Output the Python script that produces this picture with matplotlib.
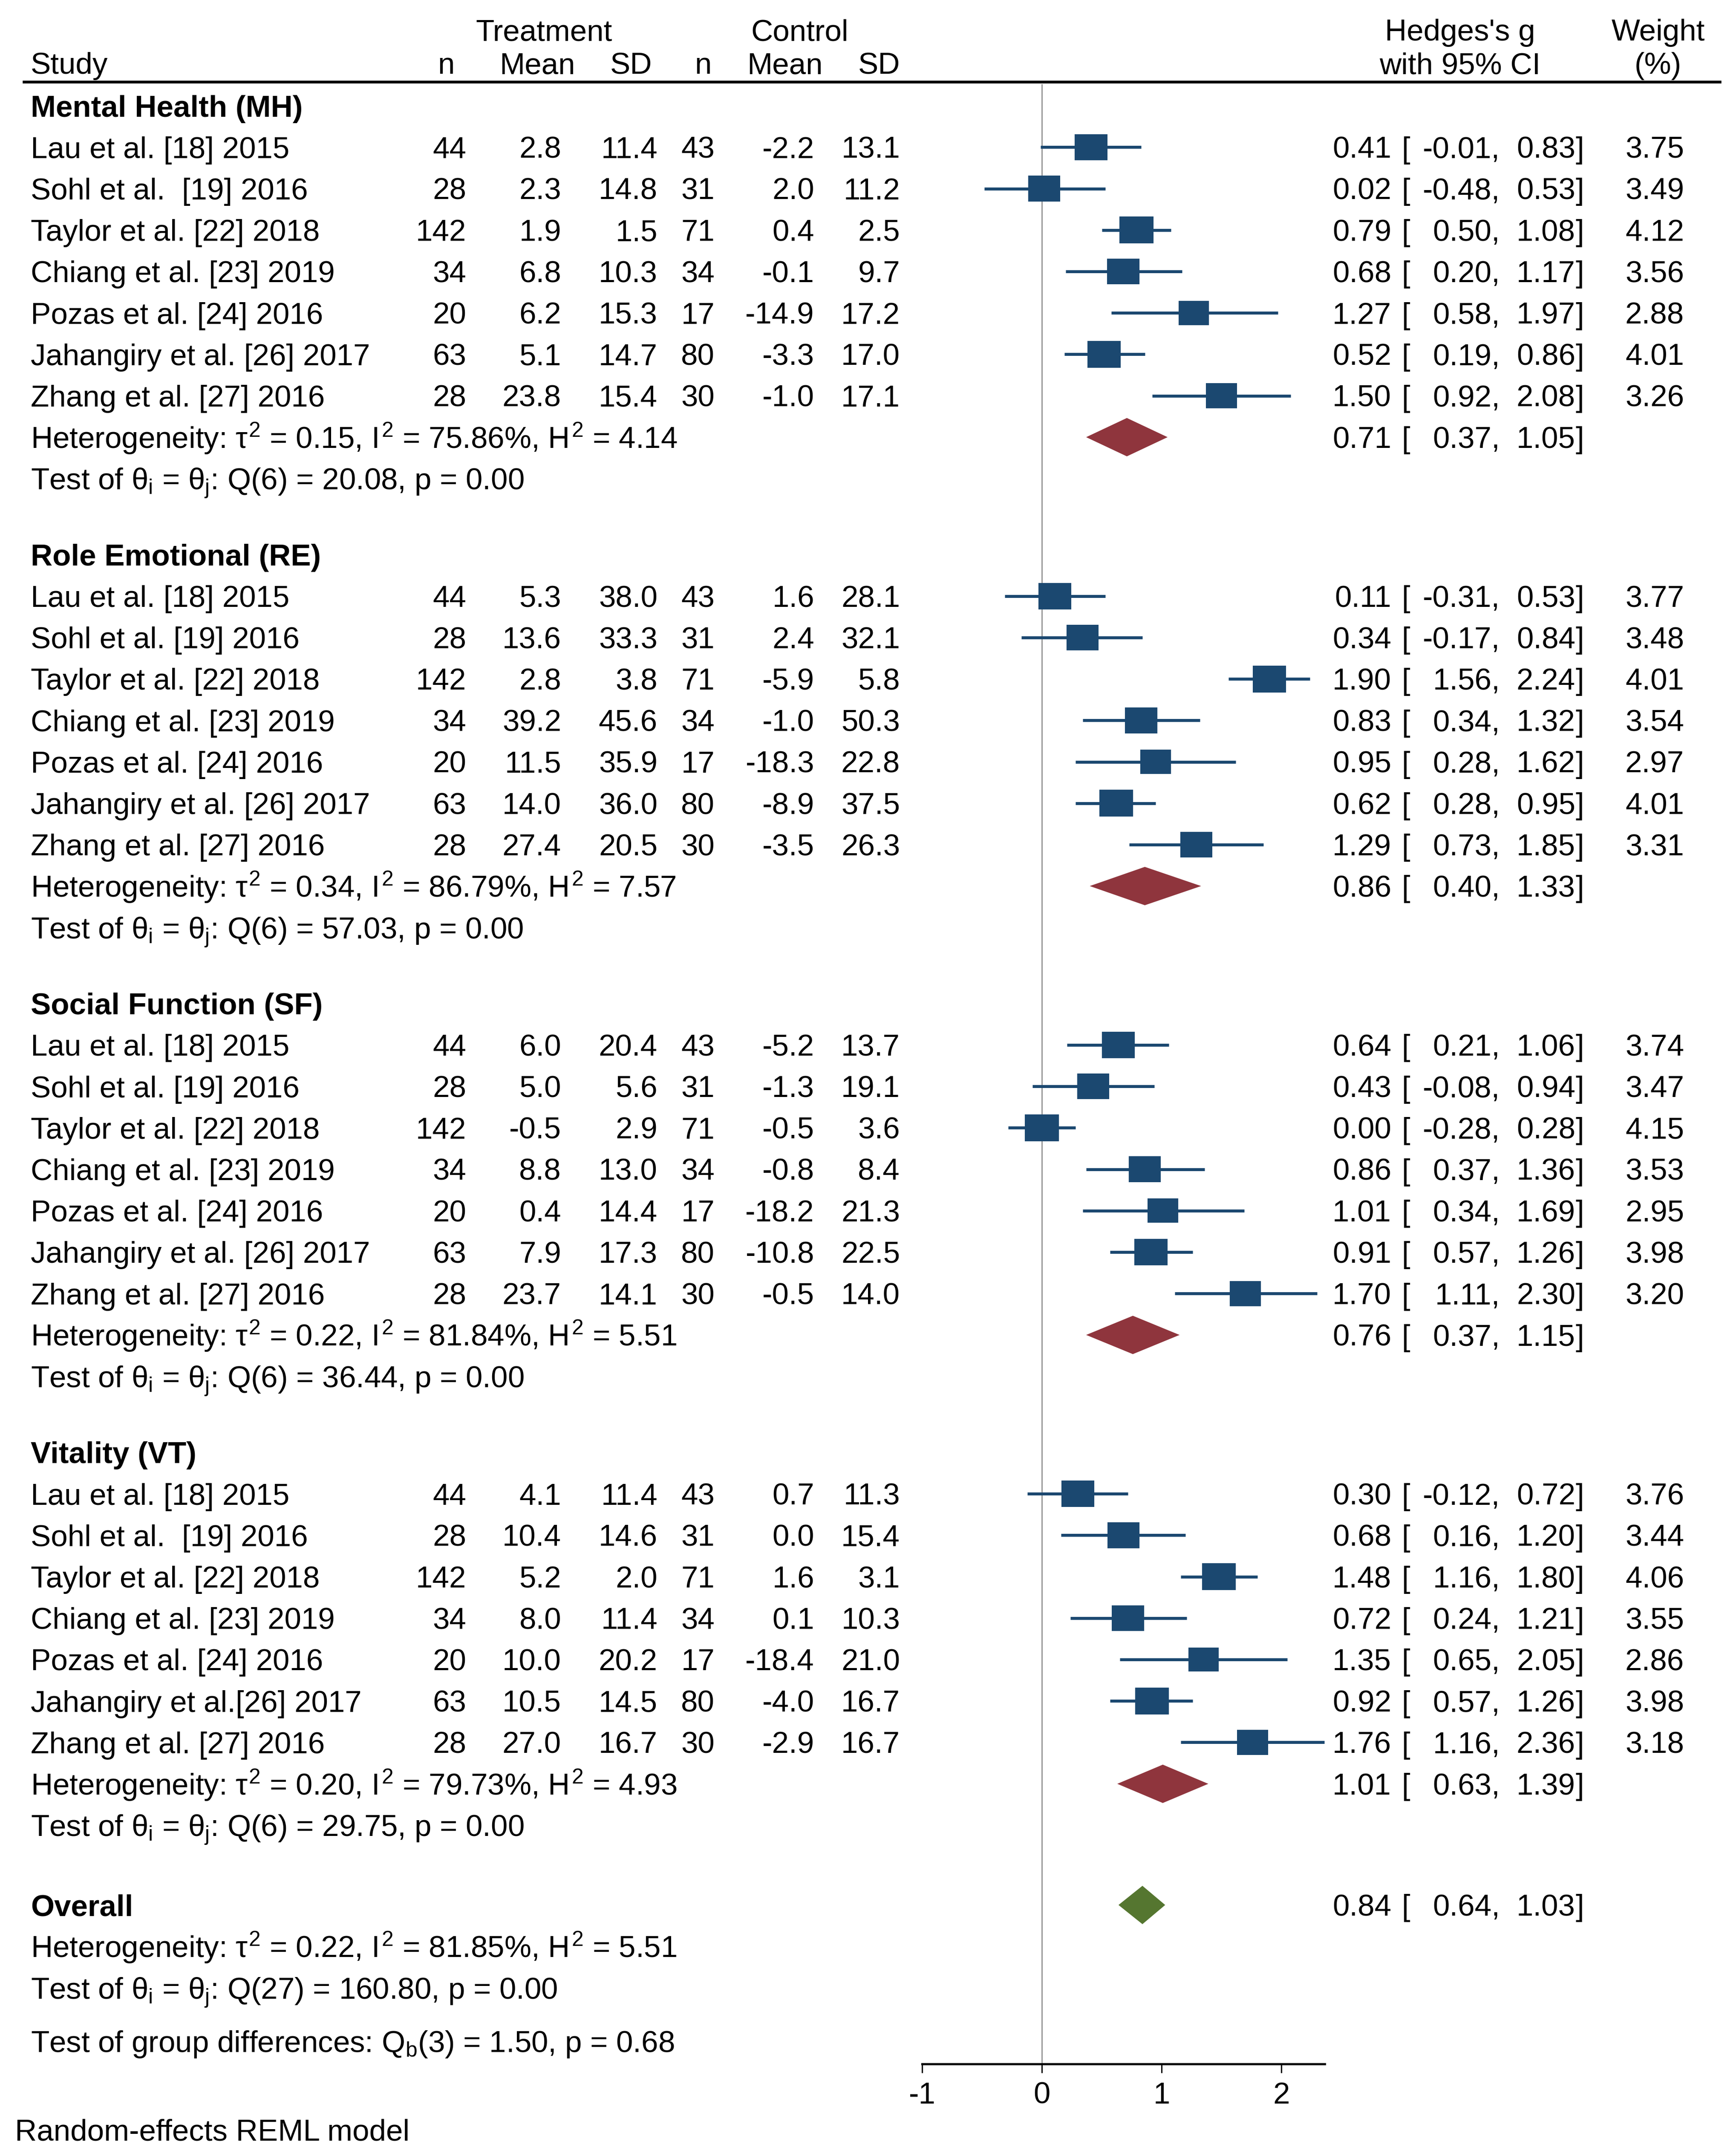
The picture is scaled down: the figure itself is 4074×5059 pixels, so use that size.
import numpy as np
import matplotlib
matplotlib.use("Agg")
import matplotlib.pyplot as plt
from matplotlib import transforms
from matplotlib.patches import Rectangle, Polygon

plt.rcParams['font.family'] = ['Liberation Sans', 'DejaVu Sans']
plt.rcParams['mathtext.fontset'] = 'custom'
plt.rcParams['mathtext.rm'] = 'Liberation Sans'
plt.rcParams['mathtext.it'] = 'Liberation Sans'
plt.rcParams['mathtext.bf'] = 'Liberation Sans:bold'
plt.rcParams['axes.unicode_minus'] = False

# ---- data ----
groups = ["Mental Health (MH)", "Role Emotional (RE)", "Social Function (SF)", "Vitality (VT)"]

studies = [
    ["Lau et al. [18] 2015", "Sohl et al.  [19] 2016", "Taylor et al. [22] 2018", "Chiang et al. [23] 2019",
     "Pozas et al. [24] 2016", "Jahangiry et al. [26] 2017", "Zhang et al. [27] 2016"],
    ["Lau et al. [18] 2015", "Sohl et al. [19] 2016", "Taylor et al. [22] 2018", "Chiang et al. [23] 2019",
     "Pozas et al. [24] 2016", "Jahangiry et al. [26] 2017", "Zhang et al. [27] 2016"],
    ["Lau et al. [18] 2015", "Sohl et al. [19] 2016", "Taylor et al. [22] 2018", "Chiang et al. [23] 2019",
     "Pozas et al. [24] 2016", "Jahangiry et al. [26] 2017", "Zhang et al. [27] 2016"],
    ["Lau et al. [18] 2015", "Sohl et al.  [19] 2016", "Taylor et al. [22] 2018", "Chiang et al. [23] 2019",
     "Pozas et al. [24] 2016", "Jahangiry et al.[26] 2017", "Zhang et al. [27] 2016"],
]

n_treat = [44, 28, 142, 34, 20, 63, 28]
n_ctrl = [43, 31, 71, 34, 17, 80, 30]

mean_treat = [
    [2.8, 2.3, 1.9, 6.8, 6.2, 5.1, 23.8],
    [5.3, 13.6, 2.8, 39.2, 11.5, 14.0, 27.4],
    [6.0, 5.0, -0.5, 8.8, 0.4, 7.9, 23.7],
    [4.1, 10.4, 5.2, 8.0, 10.0, 10.5, 27.0],
]
sd_treat = [
    [11.4, 14.8, 1.5, 10.3, 15.3, 14.7, 15.4],
    [38.0, 33.3, 3.8, 45.6, 35.9, 36.0, 20.5],
    [20.4, 5.6, 2.9, 13.0, 14.4, 17.3, 14.1],
    [11.4, 14.6, 2.0, 11.4, 20.2, 14.5, 16.7],
]
mean_ctrl = [
    [-2.2, 2.0, 0.4, -0.1, -14.9, -3.3, -1.0],
    [1.6, 2.4, -5.9, -1.0, -18.3, -8.9, -3.5],
    [-5.2, -1.3, -0.5, -0.8, -18.2, -10.8, -0.5],
    [0.7, 0.0, 1.6, 0.1, -18.4, -4.0, -2.9],
]
sd_ctrl = [
    [13.1, 11.2, 2.5, 9.7, 17.2, 17.0, 17.1],
    [28.1, 32.1, 5.8, 50.3, 22.8, 37.5, 26.3],
    [13.7, 19.1, 3.6, 8.4, 21.3, 22.5, 14.0],
    [11.3, 15.4, 3.1, 10.3, 21.0, 16.7, 16.7],
]

g = [
    [0.41, 0.02, 0.79, 0.68, 1.27, 0.52, 1.50],
    [0.11, 0.34, 1.90, 0.83, 0.95, 0.62, 1.29],
    [0.64, 0.43, 0.00, 0.86, 1.01, 0.91, 1.70],
    [0.30, 0.68, 1.48, 0.72, 1.35, 0.92, 1.76],
]
ci_lo = [
    [-0.01, -0.48, 0.50, 0.20, 0.58, 0.19, 0.92],
    [-0.31, -0.17, 1.56, 0.34, 0.28, 0.28, 0.73],
    [0.21, -0.08, -0.28, 0.37, 0.34, 0.57, 1.11],
    [-0.12, 0.16, 1.16, 0.24, 0.65, 0.57, 1.16],
]
ci_hi = [
    [0.83, 0.53, 1.08, 1.17, 1.97, 0.86, 2.08],
    [0.53, 0.84, 2.24, 1.32, 1.62, 0.95, 1.85],
    [1.06, 0.94, 0.28, 1.36, 1.69, 1.26, 2.30],
    [0.72, 1.20, 1.80, 1.21, 2.05, 1.26, 2.36],
]
weight = [
    [3.75, 3.49, 4.12, 3.56, 2.88, 4.01, 3.26],
    [3.77, 3.48, 4.01, 3.54, 2.97, 4.01, 3.31],
    [3.74, 3.47, 4.15, 3.53, 2.95, 3.98, 3.20],
    [3.76, 3.44, 4.06, 3.55, 2.86, 3.98, 3.18],
]

pool_g = [0.71, 0.86, 0.76, 1.01]
pool_lo = [0.37, 0.40, 0.37, 0.63]
pool_hi = [1.05, 1.33, 1.15, 1.39]
tau2 = [0.15, 0.34, 0.22, 0.20]
i2 = [75.86, 86.79, 81.84, 79.73]
h2 = [4.14, 7.57, 5.51, 4.93]
q_stat = [20.08, 57.03, 36.44, 29.75]
q_df = [6, 6, 6, 6]
q_p = [0.00, 0.00, 0.00, 0.00]

overall_g, overall_lo, overall_hi = 0.84, 0.64, 1.03
overall_tau2, overall_i2, overall_h2 = 0.22, 81.85, 5.51
overall_q, overall_df, overall_p = 160.80, 27, 0.00
qb, qb_df, qb_p = 1.50, 3, 0.68

xticks = [-1, 0, 1, 2]

# ---- layout (pixels from top-left) ----
W, H = 4074, 5059
FS = 51
cap = 0.716 * FS * 100 / 72  # cap height in px
x_zero, px_per_unit = 2445, 281
axis_y = 4843
block_top = [248.2 + k * 1053.3 for k in range(4)]
step = 97.2

c_sq = '#1B4870'
c_dia = '#8F353D'
c_all = '#557630'

fig = plt.figure(figsize=(W / 100, H / 100), dpi=100)
x_left = x_zero - px_per_unit
x_right = 3109
ax = fig.add_axes([x_left / W, (H - axis_y) / H, (x_right - x_left) / W, axis_y / H])
ax.set_xlim(-1, (x_right - x_zero) / px_per_unit)
ax.set_ylim(axis_y, 0)
for s in ['top', 'left', 'right']:
    ax.spines[s].set_visible(False)
ax.spines['bottom'].set_linewidth(3.6)
ax.set_yticks([])
ax.set_xticks(xticks)
ax.set_xticklabels([str(t) for t in xticks])
ax.tick_params(axis='x', length=15, width=2.2, pad=15, labelsize=FS)
ax.patch.set_alpha(0)

trans = transforms.blended_transform_factory(fig.transFigure, ax.transData)


def put(x, y, s, ha='left', bold=False):
    ax.text(x / W, y + cap / 2, s, transform=trans, ha=ha, va='baseline', fontsize=FS,
            fontweight='bold' if bold else 'normal', clip_on=False)


def effect_text(y, est, lo, hi):
    put(3265, y, f"{est:.2f}", ha='right')
    put(3290, y, "[")
    put(3520, y, f"{lo:.2f},", ha='right')
    put(3697, y, f"{hi:.2f}", ha='right')
    put(3697, y, "]")


# header
put(1277, 70, "Treatment", ha='center')
put(1877, 70, "Control", ha='center')
put(3426, 70, "Hedges's g", ha='center')
put(3891, 70, "Weight", ha='center')
put(72, 148, "Study")
for xc, lab in [(1047, "n"), (1261, "Mean"), (1481, "SD"), (1650, "n"), (1842, "Mean"), (2063, "SD")]:
    put(xc, 148, lab, ha='center')
put(3426, 148, "with 95% CI", ha='center')
put(3891, 148, "(%)", ha='center')
fig.add_artist(plt.Line2D([56 / W, 4036 / W], [1 - 192 / H, 1 - 192 / H], color='black', lw=4.7,
                          transform=fig.transFigure))

# reference line at zero
ax.vlines(0, 197, axis_y, color='#858585', lw=1.8, zorder=1)

for k in range(4):
    h0 = block_top[k]
    put(72, h0, groups[k], bold=True)
    for i in range(7):
        y = h0 + step * (i + 1)
        put(72, y, studies[k][i])
        put(1094, y, f"{n_treat[i]}", ha='right')
        put(1317, y, f"{mean_treat[k][i]:.1f}", ha='right')
        put(1543, y, f"{sd_treat[k][i]:.1f}", ha='right')
        put(1677, y, f"{n_ctrl[i]}", ha='right')
        put(1911, y, f"{mean_ctrl[k][i]:.1f}", ha='right')
        put(2112, y, f"{sd_ctrl[k][i]:.1f}", ha='right')
        effect_text(y, g[k][i], ci_lo[k][i], ci_hi[k][i])
        put(3952, y, f"{weight[k][i]:.2f}", ha='right')

        ax.hlines(y, ci_lo[k][i], ci_hi[k][i], color=c_sq, lw=5, zorder=2)
        wpx = 51.8 * weight[k][i] ** 0.3
        hpx = wpx * 0.8
        ax.add_patch(Rectangle((g[k][i] - wpx / 2 / px_per_unit, y - hpx / 2), wpx / px_per_unit, hpx,
                               facecolor=c_sq, edgecolor='none', zorder=3))

    yh = h0 + step * 8
    put(72, yh, rf"Heterogeneity: $\tau^2$ = {tau2[k]:.2f}, $I^2$ = {i2[k]:.2f}%, $H^2$ = {h2[k]:.2f}")
    ax.add_patch(Polygon([(pool_lo[k], yh), (pool_g[k], yh - 45), (pool_hi[k], yh), (pool_g[k], yh + 45)],
                         closed=True, facecolor=c_dia, edgecolor='none', zorder=3))
    effect_text(yh, pool_g[k], pool_lo[k], pool_hi[k])
    yt = h0 + step * 9
    put(72, yt, rf"Test of $\theta_i$ = $\theta_j$: Q({q_df[k]}) = {q_stat[k]:.2f}, p = {q_p[k]:.2f}")

# overall
yo = 4470
put(72, yo, "Overall", bold=True)
ax.add_patch(Polygon([(overall_lo, yo), (overall_g, yo - 45), (overall_hi, yo), (overall_g, yo + 45)],
                     closed=True, facecolor=c_all, edgecolor='none', zorder=3))
effect_text(yo, overall_g, overall_lo, overall_hi)
put(72, yo + step, rf"Heterogeneity: $\tau^2$ = {overall_tau2:.2f}, $I^2$ = {overall_i2:.2f}%, $H^2$ = {overall_h2:.2f}")
put(72, yo + 2 * step, rf"Test of $\theta_i$ = $\theta_j$: Q({overall_df}) = {overall_q:.2f}, p = {overall_p:.2f}")
put(72, 4790, rf"Test of group differences: Q$_b$({qb_df}) = {qb:.2f}, p = {qb_p:.2f}")

put(35, 4997, "Random-effects REML model")

fig.savefig("out.png", dpi=100, facecolor='white')
